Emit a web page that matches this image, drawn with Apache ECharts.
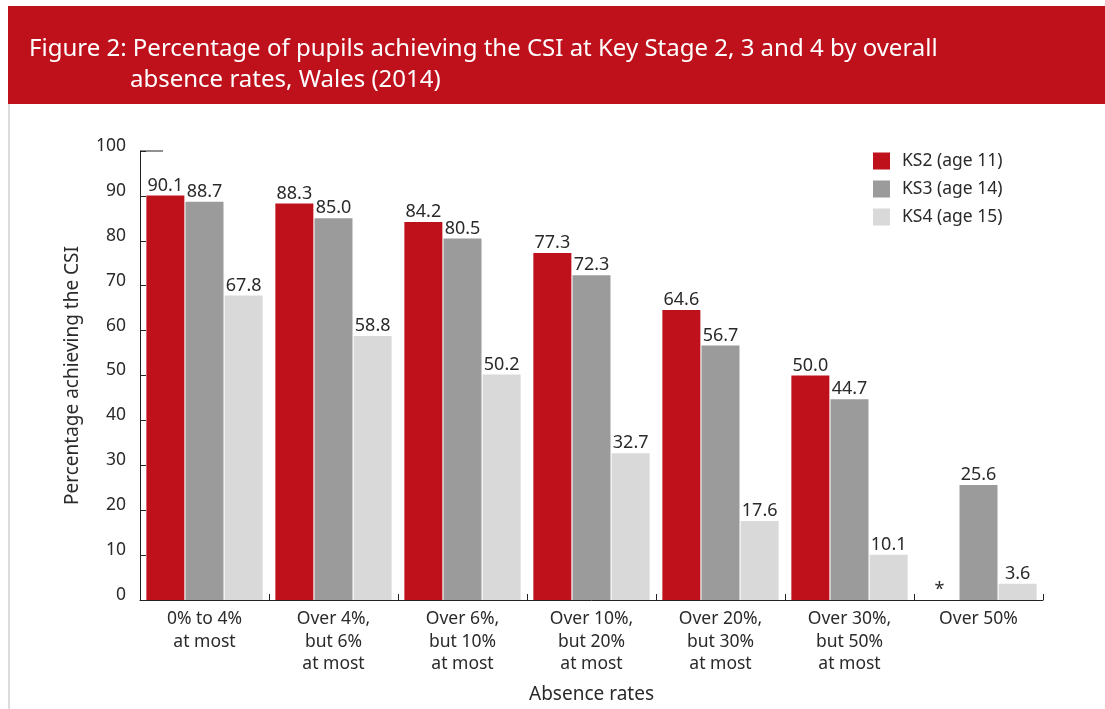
<!DOCTYPE html>
<html>
<head>
<meta charset="utf-8">
<script src="https://cdn.jsdelivr.net/npm/echarts@6/dist/echarts.min.js"></script>
<style>
html,body{margin:0;padding:0;background:#fff;}
#chart{width:1105px;height:709px;}
</style>
</head>
<body>
<div id="chart"></div>
<script>
var categories = ['0% to 4%\nat most', 'Over 4%,\nbut 6%\nat most', 'Over 6%,\nbut 10%\nat most', 'Over 10%,\nbut 20%\nat most', 'Over 20%,\nbut 30%\nat most', 'Over 30%,\nbut 50%\nat most', 'Over 50%'];
var seriesNames = ['KS2 (age 11)', 'KS3 (age 14)', 'KS4 (age 15)'];
var ks2 = [90.1, 88.3, 84.2, 77.3, 64.6, 50.0, 0];
var ks2Suppressed = [false, false, false, false, false, false, true];
var ks3 = [88.7, 85.0, 80.5, 72.3, 56.7, 44.7, 25.6];
var ks4 = [67.8, 58.8, 50.2, 32.7, 17.6, 10.1, 3.6];
var yTicks = [0, 10, 20, 30, 40, 50, 60, 70, 80, 90, 100];

var FONT = '"Noto Sans", sans-serif';
var TXT = '#2a2a2a';
var colors = ['#BE111C', '#9B9B9B', '#D9D9D9'];

var chart = echarts.init(document.getElementById('chart'));

function lbl(fmt) {
  return {show: true, position: 'top', distance: 1, color: TXT, fontFamily: FONT, fontSize: 18, formatter: fmt};
}

var option = {
  animation: false,
  color: colors,
  title: [
    {text: 'Figure 2: Percentage of pupils achieving the CSI at Key Stage 2, 3 and 4 by overall',
     left: 24, top: 32, textStyle: {color: '#fff', fontFamily: FONT, fontSize: 24, fontWeight: 'normal'}},
    {text: 'absence rates, Wales (2014)',
     left: 125, top: 63, textStyle: {color: '#fff', fontFamily: FONT, fontSize: 24, fontWeight: 'normal'}}
  ],
  legend: {
    orient: 'vertical', left: 868, top: 147, itemWidth: 17, itemHeight: 17, itemGap: 10,
    icon: 'rect', data: seriesNames,
    textStyle: {color: TXT, fontFamily: FONT, fontSize: 17.5, padding: [0, 0, 0, 7]}
  },
  grid: {left: 140, right: 62, top: 151, bottom: 108},
  xAxis: {
    type: 'category', data: categories,
    name: 'Absence rates', nameLocation: 'middle', nameGap: 85,
    nameTextStyle: {color: TXT, fontFamily: FONT, fontSize: 19},
    axisLine: {lineStyle: {color: '#222', width: 1}},
    axisTick: {show: true, inside: true, length: 6, lineStyle: {color: '#222'}},
    axisLabel: {color: TXT, fontFamily: FONT, fontSize: 17.5, lineHeight: 22.5, margin: 8, interval: 0}
  },
  yAxis: {
    type: 'value', min: 0, max: 100, interval: 10,
    name: 'Percentage achieving the CSI', nameLocation: 'middle', nameGap: 58, nameRotate: 90,
    nameTextStyle: {color: TXT, fontFamily: FONT, fontSize: 19},
    axisLine: {show: true, lineStyle: {color: '#222', width: 1}},
    axisTick: {show: true, inside: true, length: 6, lineStyle: {color: '#222'}},
    splitLine: {show: false},
    axisLabel: {color: TXT, fontFamily: FONT, fontSize: 17.5, margin: 14,
      verticalAlign: 'bottom', lineHeight: 10,
      formatter: function (v) { return yTicks.indexOf(v) >= 0 ? String(v) : ''; }}
  },
  series: [
    {name: seriesNames[0], type: 'bar', data: ks2, barWidth: 38, barGap: '3%',
     itemStyle: {color: colors[0]},
     label: lbl(function (p) { return ks2Suppressed[p.dataIndex] ? '*' : p.value.toFixed(1); })},
    {name: seriesNames[1], type: 'bar', data: ks3, barWidth: 38, barGap: '3%',
     itemStyle: {color: colors[1]},
     label: lbl(function (p) { return p.value.toFixed(1); })},
    {name: seriesNames[2], type: 'bar', data: ks4, barWidth: 38, barGap: '3%',
     itemStyle: {color: colors[2]},
     label: lbl(function (p) { return p.value.toFixed(1); })}
  ]
};
chart.setOption(option);

// decorations: banner, left rule, top tick at 100
var top100 = chart.convertToPixel({gridIndex: 0}, [0, 100]);
chart.setOption({
  graphic: [
    {type: 'rect', z: -10, shape: {x: 8, y: 6, width: 1097, height: 98}, style: {fill: '#BE111C'}},
    {type: 'rect', z: -10, shape: {x: 8, y: 104, width: 2, height: 605}, style: {fill: '#DCDCDC'}},
    {type: 'line', z: 10, shape: {x1: 140, y1: top100[1], x2: 163, y2: top100[1]}, style: {stroke: '#222', lineWidth: 1}}
  ]
});
</script>
</body>
</html>
